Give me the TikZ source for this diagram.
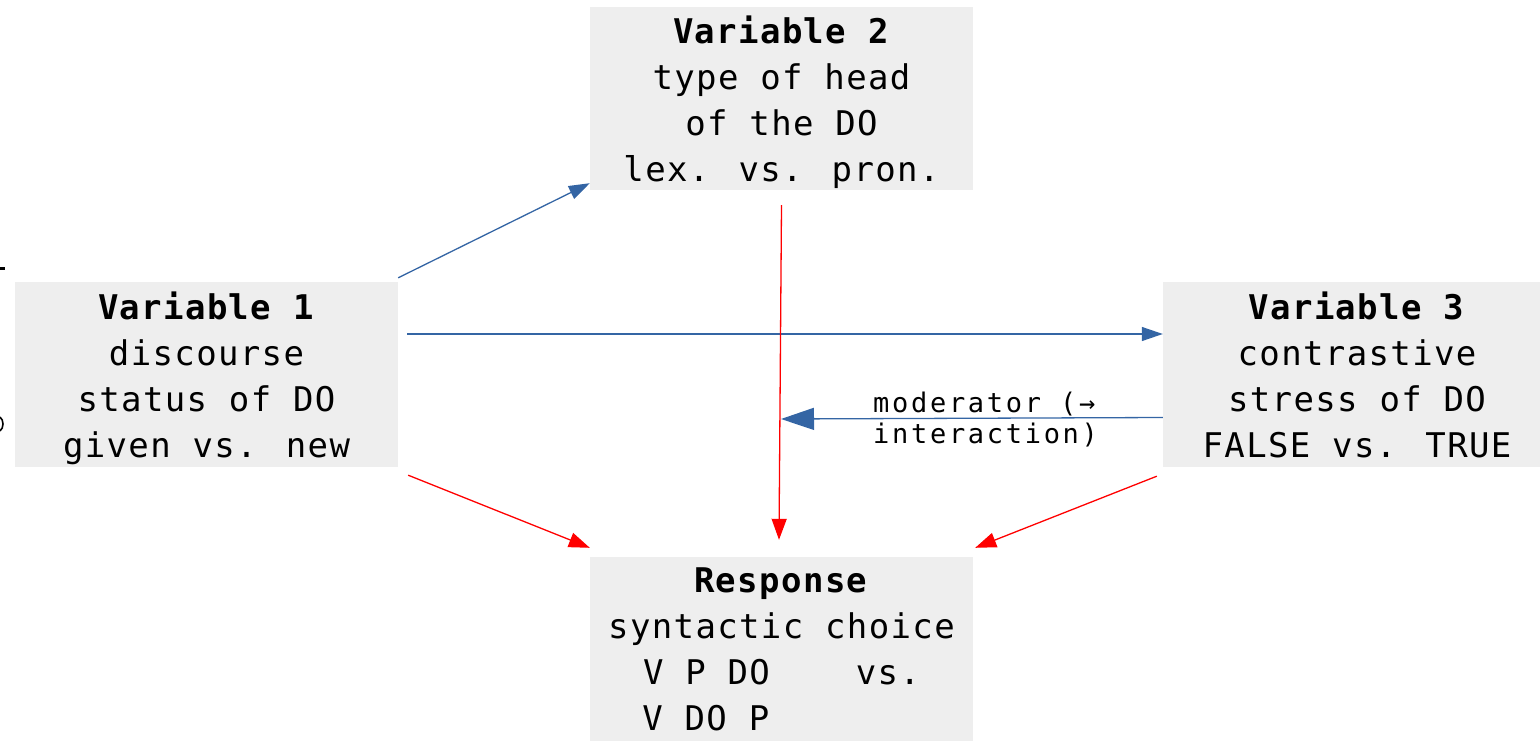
\documentclass[tikz,border=0pt]{standalone}
\usepackage{fontspec}
\newfontfamily\boxfont[LetterSpace=4]{DejaVu Sans Mono}
\newfontfamily\labfont[LetterSpace=10]{DejaVu Sans Mono}
\usetikzlibrary{arrows.meta,calc}
\definecolor{boxgray}{RGB}{238,238,238}
\definecolor{arrowblue}{RGB}{52,101,164}
\definecolor{arrowred}{RGB}{255,0,0}
\begin{document}
\begin{tikzpicture}[x=1pt,y=-1pt,
  varbox/.style={fill=boxgray, draw=none, inner sep=0pt, align=center,
    text depth=0pt, font=\boxfont\fontsize{34}{46}\selectfont},
  bluearrow/.style={draw=arrowblue, line width=1.3pt,
    -{Triangle[length=21pt,width=14pt,fill=arrowblue]}},
  bigbluearrow/.style={draw=arrowblue, line width=1.3pt,
    -{Triangle[length=33pt,width=22pt,fill=arrowblue]}},
  redarrow/.style={draw=arrowred, line width=1.3pt,
    -{Triangle[length=21pt,width=15pt,fill=arrowred]}},
  modlabel/.style={inner sep=0pt, align=left, anchor=base west,
    font=\labfont\fontsize{27}{31}\selectfont}
]
\useasboundingbox (0,0) rectangle (1540,741);

\node[varbox, minimum width=383pt, minimum height=183pt] (v2) at (781.5,98.5)
  {\textbf{Variable 2}\\type of head\\of the DO\\lex. vs. pron.};
\node[varbox, minimum width=383pt, minimum height=185pt] (v1) at (206.5,374.5)
  {\textbf{Variable 1}\\discourse\\status of DO\\given vs. new};
\node[varbox, minimum width=388pt, minimum height=185pt] (v3) at (1357,374.5)
  {\textbf{Variable 3}\\contrastive\\stress of DO\\FALSE vs. TRUE};
\node[varbox, text depth=-6pt, minimum width=383pt, minimum height=184pt] (r) at (781.5,649)
  {\textbf{Response}\\syntactic choice\\V P DO\phantom{xxxx}vs.\\V DO P\phantom{xxxxxxx}};

\coordinate (m) at (781,419);
\node[modlabel] (lab) at (873,443) {moderator (→\\interaction)};

\draw[bluearrow] ([shift={(0,-4)}]v1.north east) -- ([shift={(0,-7)}]v2.south west);
\draw[bluearrow] ([shift={(9,-40.5)}]v1.east) -- ([shift={(0,-40.5)}]v3.west);
\draw[redarrow] ([shift={(0,15)}]v2.south) -- ([shift={(-2.5,-17)}]r.north);
\draw[bigbluearrow] ([shift={(0,43)}]v3.west) -- (m);
\draw[redarrow] ([shift={(10,8)}]v1.south east) -- ([shift={(0,-9)}]r.north west);
\draw[redarrow] ([shift={(-6,9)}]v3.south west) -- ([shift={(2,-9)}]r.north east);

\fill (0,266.5) rectangle (5,270);
\draw[line width=1.6pt] (0,417) .. controls (4,420) and (4,428) .. (0,431);
\end{tikzpicture}
\end{document}
